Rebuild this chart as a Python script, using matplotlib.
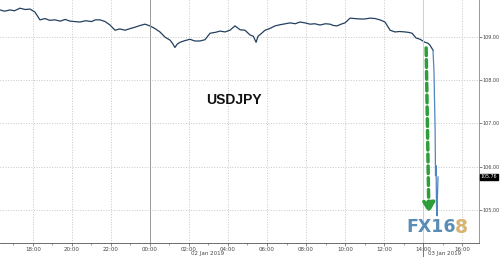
import numpy as np
import matplotlib.pyplot as plt

# USDJPY intraday, hours counted from 18:00 on 01 Jan (18:00 = 0)
hours = [-1.69, -1.45, -1.18, -0.95, -0.67, -0.40, -0.15, 0.10, 0.36, 0.62, 0.85,
         1.13, 1.40, 1.65, 1.90, 2.15, 2.41, 2.70, 3.00, 3.20, 3.44, 3.70, 3.95,
         4.21, 4.45, 4.72, 5.00, 5.23, 5.50, 5.74, 6.00, 6.25, 6.51, 6.77, 7.03,
         7.15, 7.28, 7.40, 7.54, 7.80, 8.05, 8.30, 8.56, 8.82, 9.08, 9.35, 9.59,
         9.85, 10.10, 10.36, 10.62, 10.87, 11.13, 11.30, 11.44, 11.54, 11.70, 11.90,
         12.15, 12.41, 12.70, 12.95, 13.18, 13.45, 13.69, 13.95, 14.21, 14.45, 14.72,
         15.00, 15.23, 15.40, 15.59, 15.80, 16.00, 16.26, 16.50, 16.77, 17.00, 17.28,
         17.55, 17.79, 18.05, 18.31, 18.56, 18.80, 19.08, 19.25, 19.44, 19.64, 19.85,
         20.10, 20.25, 20.36, 20.51]
prices = [109.63, 109.60, 109.63, 109.61, 109.67, 109.64, 109.65, 109.58, 109.40, 109.43, 109.39,
          109.40, 109.37, 109.41, 109.37, 109.36, 109.35, 109.38, 109.36, 109.40, 109.40, 109.36, 109.28,
          109.16, 109.19, 109.16, 109.20, 109.23, 109.27, 109.30, 109.26, 109.20, 109.12, 109.00, 108.93,
          108.86, 108.76, 108.84, 108.88, 108.92, 108.95, 108.91, 108.91, 108.94, 109.09, 109.11, 109.14,
          109.12, 109.16, 109.26, 109.17, 109.16, 109.05, 109.02, 108.88, 109.02, 109.08, 109.16,
          109.20, 109.26, 109.29, 109.31, 109.33, 109.31, 109.35, 109.33, 109.30, 109.31, 109.28,
          109.31, 109.30, 109.27, 109.26, 109.30, 109.33, 109.44, 109.43, 109.42, 109.42, 109.44,
          109.43, 109.40, 109.35, 109.16, 109.12, 109.13, 109.12, 109.11, 109.09, 108.98, 108.95,
          108.88, 108.86, 108.81, 108.70]
# the flash crash
crash_hours = [20.51, 20.56, 20.62, 20.64, 20.67, 20.69, 20.72, 20.74, 20.77]
crash_prices = [108.70, 108.23, 106.84, 105.79, 106.02, 105.09, 104.86, 105.33, 105.76]

xtick_hours = [0, 2, 4, 6, 8, 10, 12, 14, 16, 18, 20, 22]
xtick_labels = ["18:00", "20:00", "22:00", "00:00", "02:00", "04:00",
                "06:00", "08:00", "10:00", "12:00", "14:00", "16:00"]
ytick_values = [105, 106, 107, 108, 109]
last_price = 105.76

fig = plt.figure(figsize=(5, 2.57), dpi=100)
ax = fig.add_axes([0, 0.0545, 0.958, 0.9455])

ax.plot(hours, prices, color="#23405f", lw=0.9)
ax.plot(crash_hours, crash_prices, color="#4f86bf", lw=0.9)

ax.set_xlim(-1.69, 22.87)
ax.set_ylim(104.23, 109.86)

ax.set_xticks(xtick_hours)
ax.set_xticklabels(xtick_labels, fontsize=4.0, color="#444444")
ax.set_xticks(np.arange(-1, 23, 1), minor=True)
ax.set_yticks(ytick_values)
ax.set_yticklabels(["%.2f" % v for v in ytick_values], fontsize=3.5, color="#444444")
ax.yaxis.tick_right()
ax.tick_params(axis="both", length=2, width=0.5, color="#555555", pad=0.8)
ax.tick_params(axis="x", which="minor", length=1.5, width=0.4, color="#555555")

ax.grid(True, which="major", color="#c8c8c8", linestyle=":", linewidth=0.7)
for s in ["top", "left"]:
    ax.spines[s].set_visible(False)
ax.spines["right"].set_color("#888888")
ax.spines["bottom"].set_color("#555555")
ax.spines["right"].set_linewidth(0.6)
ax.spines["bottom"].set_linewidth(0.6)

# day separators
ax.axvline(6, color="#9a9a9a", lw=0.7)
ax.plot([20, 20], [104.23, 109.86], color="#d0d0d0", lw=0.7)
ax.plot([20, 20], [103.9, 104.23], color="#777777", lw=0.7, clip_on=False)

ax.text(8.95, 103.98, "02 Jan 2019", fontsize=4.0, color="#444444", ha="center", va="center", clip_on=False)
ax.text(21.1, 103.98, "03 Jan 2019", fontsize=4.0, color="#444444", ha="center", va="center", clip_on=False)

# last price tag
ax.text(22.95, last_price, "%.2f" % last_price, fontsize=3.4, color="white", ha="left", va="center",
        clip_on=False, bbox=dict(boxstyle="square,pad=0.12", fc="black", ec="black"))

ax.text(10.3, 107.55, "USDJPY", fontsize=10, fontweight="bold", family="Liberation Sans",
        ha="center", va="center", color="#111111")

# green dashed arrow
ax.annotate("", xy=(20.30, 104.92), xytext=(20.16, 108.75),
            arrowprops=dict(arrowstyle="-|>,head_width=0.35,head_length=0.6", color="#2e9e3a",
                            lw=2.5, linestyle=(0, (2.2, 1.2)), shrinkA=0, shrinkB=0))

# logo
ax.text(19.15, 104.59, "FX16", fontsize=12.5, fontweight="bold", color="#5a8db5",
        family="DejaVu Sans", ha="left", va="center")
ax.text(21.64, 104.59, "8", fontsize=13.5, fontweight="bold", color="#d8b46e",
        family="DejaVu Sans", ha="left", va="center")

fig.savefig("out.png", dpi=100)
